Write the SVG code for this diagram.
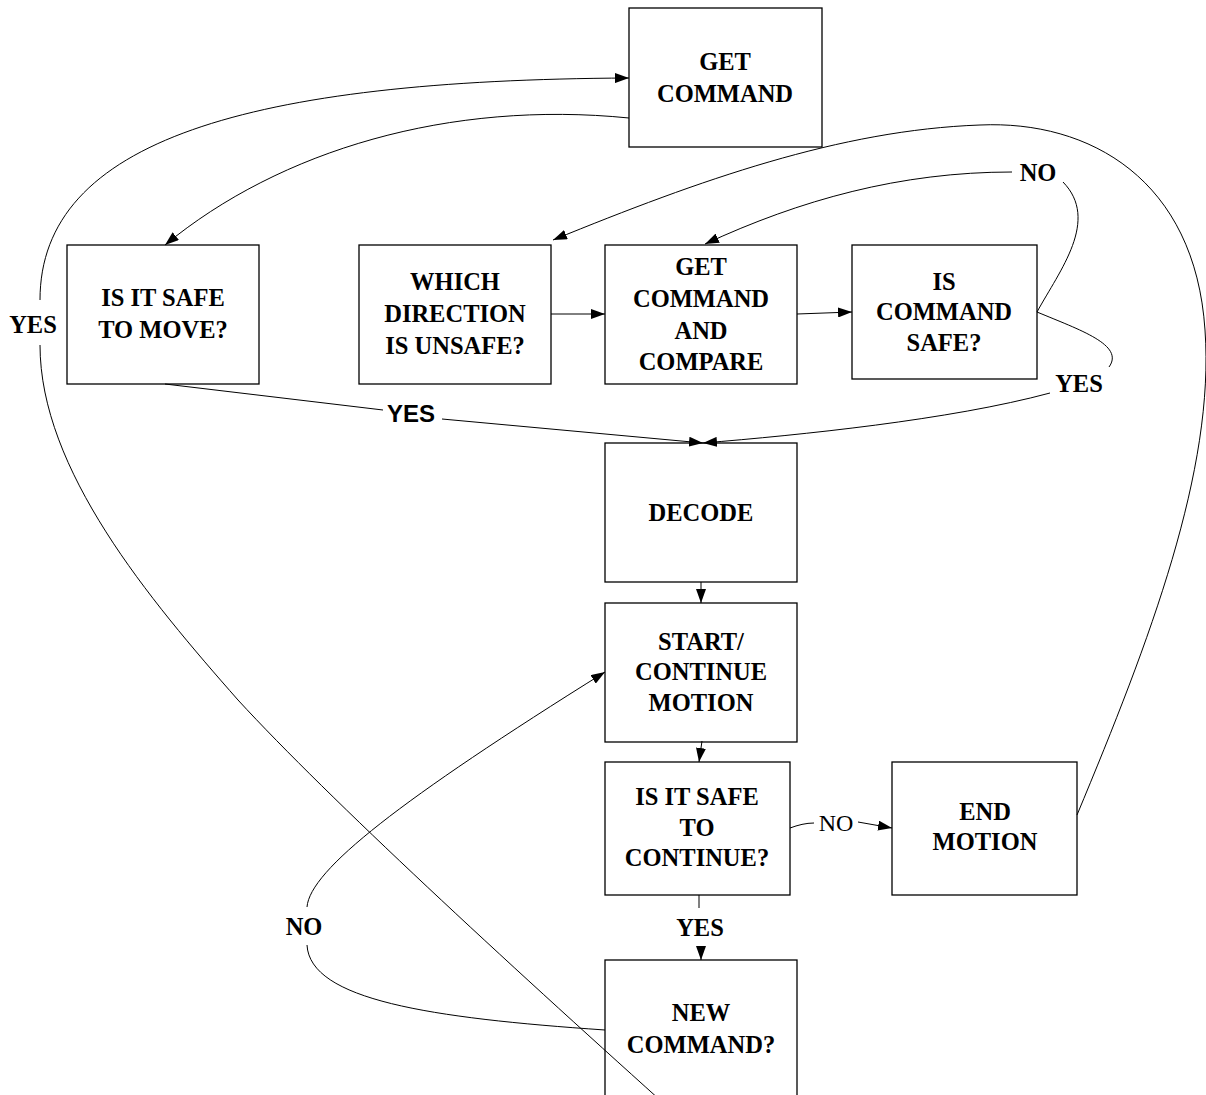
<svg xmlns="http://www.w3.org/2000/svg" width="1206" height="1095" viewBox="0 0 1206 1095">
<style>
.box{fill:#fff;stroke:#000;stroke-width:1.3}
.t{font-family:"Liberation Serif","Times New Roman",serif;font-weight:bold;font-size:24.5px;text-anchor:middle;fill:#000}
.tr{font-family:"Liberation Serif","Times New Roman",serif;font-size:24px;text-anchor:middle;fill:#000}
.ts{font-family:"Liberation Sans",Arial,sans-serif;font-weight:bold;font-size:24px;text-anchor:middle;fill:#000}
.c{fill:none;stroke:#000;stroke-width:1}
.a{marker-end:url(#ah)}
</style>
<defs>
<marker id="ah" viewBox="0 0 14 10" refX="14" refY="5" markerWidth="14" markerHeight="10" markerUnits="userSpaceOnUse" orient="auto">
<path d="M0,0 L14,5 L0,10 z" fill="#000"/>
</marker>
</defs>
<rect width="1206" height="1095" fill="#fff"/>

<g id="get-command">
<rect class="box" x="629" y="8" width="193" height="139"/>
<text class="t" x="725" y="70">GET</text>
<text class="t" x="725" y="102">COMMAND</text>
</g>
<g id="safe-to-move">
<rect class="box" x="67" y="245" width="192" height="139"/>
<text class="t" x="163" y="306">IS IT SAFE</text>
<text class="t" x="163" y="338">TO MOVE?</text>
</g>
<g id="which-direction">
<rect class="box" x="359" y="245" width="192" height="139"/>
<text class="t" x="455" y="290">WHICH</text>
<text class="t" x="455" y="322">DIRECTION</text>
<text class="t" x="455" y="354">IS UNSAFE?</text>
</g>
<g id="get-compare">
<rect class="box" x="605" y="245" width="192" height="139"/>
<text class="t" x="701" y="275">GET</text>
<text class="t" x="701" y="307">COMMAND</text>
<text class="t" x="701" y="339">AND</text>
<text class="t" x="701" y="370">COMPARE</text>
</g>
<g id="command-safe">
<rect class="box" x="852" y="245" width="185" height="134"/>
<text class="t" x="944" y="290">IS</text>
<text class="t" x="944" y="320">COMMAND</text>
<text class="t" x="944" y="351">SAFE?</text>
</g>
<g id="decode">
<rect class="box" x="605" y="443" width="192" height="139"/>
<text class="t" x="701" y="521">DECODE</text>
</g>
<g id="start-continue">
<rect class="box" x="605" y="603" width="192" height="139"/>
<text class="t" x="701" y="650">START/</text>
<text class="t" x="701" y="680">CONTINUE</text>
<text class="t" x="701" y="711">MOTION</text>
</g>
<g id="safe-to-continue">
<rect class="box" x="605" y="762" width="185" height="133"/>
<text class="t" x="697" y="805">IS IT SAFE</text>
<text class="t" x="697" y="836">TO</text>
<text class="t" x="697" y="866">CONTINUE?</text>
</g>
<g id="end-motion">
<rect class="box" x="892" y="762" width="185" height="133"/>
<text class="t" x="985" y="820">END</text>
<text class="t" x="985" y="850">MOTION</text>
</g>
<g id="new-command">
<rect class="box" x="605" y="960" width="192" height="150"/>
<text class="t" x="701" y="1021">NEW</text>
<text class="t" x="701" y="1053">COMMAND?</text>
</g>

<g id="connectors">
<path class="c a" d="M629,118 C450,100 280,150 165,245"/>
<path class="c" d="M660,1100 C510,965 330,800 238,700 C150,600 40,470 40,345"/>
<path class="c a" d="M40,300 C40,140 250,80 629,78"/>
<text class="t" x="33" y="333">YES</text>
<path class="c a" d="M1077,815 C1150,640 1215,470 1205,330 C1195,180 1090,120 980,125 C840,130 700,180 553,240"/>
<path class="c" d="M1037,312 C1060,270 1100,220 1063,182"/>
<text class="t" x="1038" y="181">NO</text>
<path class="c a" d="M1012,172 C900,172 800,200 705,244"/>
<path class="c" d="M1037,312 C1080,330 1125,345 1109,367"/>
<text class="t" x="1079" y="392">YES</text>
<path class="c a" d="M1050,393 C950,420 800,435 703,443"/>
<path class="c" d="M165,384 L383,410"/>
<text class="ts" x="411" y="422">YES</text>
<path class="c a" d="M442,419 L703,443"/>
<path class="c a" d="M551,314 L605,314"/>
<path class="c a" d="M797,314 L852,312"/>
<path class="c a" d="M701,582 L701,603"/>
<path class="c a" d="M702,741 L699,762"/>
<path class="c" d="M790,828 C798,825 806,823 814,823"/>
<text class="tr" x="836" y="831">NO</text>
<path class="c a" d="M858,822 L892,828"/>
<path class="c" d="M699,895 L699,908"/>
<text class="t" x="700" y="936">YES</text>
<path class="c a" d="M701,946 L701,960"/>
<path class="c" d="M605,1030 C430,1018 310,1000 307,945"/>
<text class="t" x="304" y="935">NO</text>
<path class="c a" d="M307,907 C310,870 400,800 605,672"/>
</g>
</svg>
